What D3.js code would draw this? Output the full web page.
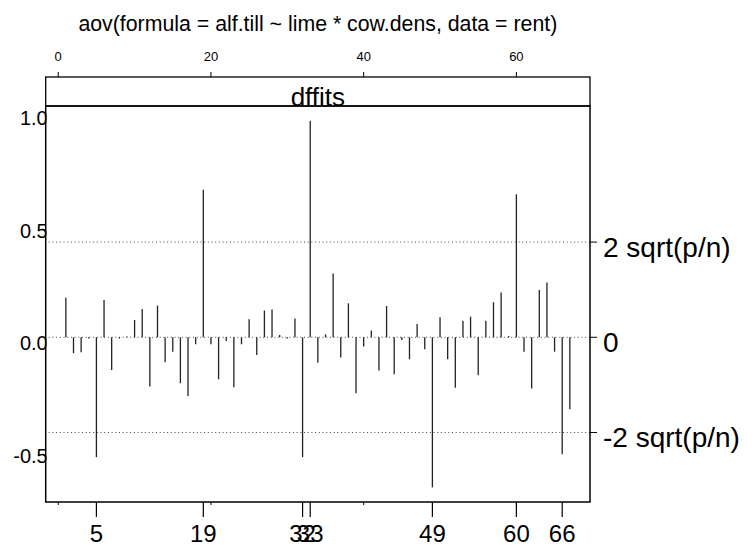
<!DOCTYPE html>
<html>
<head>
<meta charset="utf-8">
<script src="https://cdn.jsdelivr.net/npm/d3@7"></script>
<style>
	body { margin: 0; background: #fff; }
	text { font-family: "Liberation Sans", Arial, sans-serif; fill: #000; }
</style>
</head>
<body>
<svg id="chart" width="755" height="546"></svg>
<script>
// dffits for each observation (1..67)
var dffits = [0.176, -0.071, -0.067, -0.005, -0.533, 0.166, -0.145, -0.005, 0.003, 0.077,
	0.126, -0.219, 0.141, -0.111, -0.064, -0.204, -0.261, -0.031, 0.656, -0.031,
	-0.187, -0.016, -0.222, -0.031, 0.080, -0.079, 0.119, 0.123, 0.010, -0.005,
	0.084, -0.533, 0.963, -0.113, 0.013, 0.284, -0.090, 0.151, -0.249, -0.041,
	0.030, -0.148, 0.139, -0.164, -0.012, -0.098, 0.059, -0.053, -0.667, 0.089,
	-0.098, -0.224, 0.074, 0.092, -0.169, 0.074, 0.156, 0.199, 0.006, 0.636,
	-0.064, -0.228, 0.210, 0.244, -0.064, -0.520, -0.320];
var labeled = [5, 19, 32, 33, 49, 60, 66];
var topTicks = [0, 20, 40, 60];
var leftTicks = [-0.5, 0.0, 0.5, 1.0];
var p = 3, n = 67;

var data = dffits.map((v, i) => ({obs: i + 1, value: v}));
var thresh = 2 * Math.sqrt(p / n);
var rightTicks = [
	{value: thresh, label: "2 sqrt(p/n)"},
	{value: 0, label: "0"},
	{value: -thresh, label: "-2 sqrt(p/n)"}
];

var svg = d3.select("#chart"),
	panel = {left: 45.7, right: 590, top: 106, bottom: 502},
	stripTop = 77;

// lattice-style 4% padding on each side
var xExt = d3.extent(data, d => d.obs), xPad = 0.04 * (xExt[1] - xExt[0]);
var yExt = d3.extent(data, d => d.value), yPad = 0.04 * (yExt[1] - yExt[0]);

var x = d3.scaleLinear()
	.domain([xExt[0] - xPad, xExt[1] + xPad])
	.range([panel.left, panel.right]);

var y = d3.scaleLinear()
	.domain([yExt[0] - yPad, yExt[1] + yPad])
	.range([panel.bottom, panel.top]);

var midX = (panel.left + panel.right) / 2;

svg.append("text")
	.attr("x", midX).attr("y", 31)
	.attr("text-anchor", "middle")
	.style("font-size", "21.3px")
	.text("aov(formula = alf.till ~ lime * cow.dens, data = rent)");

// top axis
var topAxis = svg.append("g");
topAxis.selectAll("line").data(topTicks).enter().append("line")
	.attr("x1", d => x(d)).attr("x2", d => x(d))
	.attr("y1", stripTop - 5).attr("y2", stripTop)
	.attr("stroke", "#000");
topAxis.selectAll("text").data(topTicks).enter().append("text")
	.attr("x", d => x(d)).attr("y", 61)
	.attr("text-anchor", "middle")
	.style("font-size", "13px")
	.text(d => d);

// left labels (drawn before the panel so the border overlaps them)
svg.append("g").selectAll("text").data(leftTicks).enter().append("text")
	.attr("x", panel.left + 2).attr("y", d => y(d) + 13)
	.attr("text-anchor", "end")
	.style("font-size", "20px")
	.text(d => d.toFixed(1));

svg.append("rect")
	.attr("x", panel.left + 1).attr("y", panel.top)
	.attr("width", panel.right - panel.left - 1).attr("height", panel.bottom - panel.top)
	.attr("fill", "#fff");

// reference lines
svg.append("g").selectAll("line").data(rightTicks).enter().append("line")
	.attr("x1", panel.left + 3).attr("x2", panel.right)
	.attr("y1", d => y(d.value)).attr("y2", d => y(d.value))
	.attr("stroke", "#444").attr("stroke-width", 1)
	.attr("stroke-dasharray", "1,2.7");

// spikes
svg.append("g").selectAll("line").data(data).enter().append("line")
	.attr("x1", d => x(d.obs)).attr("x2", d => x(d.obs))
	.attr("y1", y(0)).attr("y2", d => y(d.value))
	.attr("stroke", "#222").attr("stroke-width", 1.3);

// strip
svg.append("rect")
	.attr("x", panel.left).attr("y", stripTop)
	.attr("width", panel.right - panel.left).attr("height", panel.top - stripTop)
	.attr("fill", "#fff").attr("stroke", "#000").attr("stroke-width", 1.3);
svg.append("text")
	.attr("x", midX).attr("y", panel.top)
	.attr("text-anchor", "middle")
	.style("font-size", "26px")
	.text("dffits");

svg.append("rect")
	.attr("x", panel.left).attr("y", panel.top)
	.attr("width", panel.right - panel.left).attr("height", panel.bottom - panel.top)
	.attr("fill", "none").attr("stroke", "#000").attr("stroke-width", 1.5);

// right axis
var rightAxis = svg.append("g");
rightAxis.selectAll("line").data(rightTicks).enter().append("line")
	.attr("x1", panel.right).attr("x2", panel.right + 7)
	.attr("y1", d => y(d.value)).attr("y2", d => y(d.value))
	.attr("stroke", "#000");
rightAxis.selectAll("text").data(rightTicks).enter().append("text")
	.attr("x", panel.right + 13).attr("y", d => y(d.value) + 15)
	.style("font-size", "28px")
	.text(d => d.label);

// bottom axis: small ticks at 0,20,40,60 and long ticks for labeled obs
var bottomAxis = svg.append("g");
bottomAxis.selectAll(".minor").data(topTicks).enter().append("line")
	.attr("class", "minor")
	.attr("x1", d => x(d)).attr("x2", d => x(d))
	.attr("y1", panel.bottom).attr("y2", panel.bottom + 3)
	.attr("stroke", "#000");
bottomAxis.selectAll(".major").data(labeled).enter().append("line")
	.attr("class", "major")
	.attr("x1", d => x(d)).attr("x2", d => x(d))
	.attr("y1", panel.bottom).attr("y2", panel.bottom + 15)
	.attr("stroke", "#000").attr("stroke-width", 1.2);
bottomAxis.selectAll("text").data(labeled).enter().append("text")
	.attr("x", d => x(d)).attr("y", 542)
	.attr("text-anchor", "middle")
	.style("font-size", "24px")
	.text(d => d);
</script>
</body>
</html>
